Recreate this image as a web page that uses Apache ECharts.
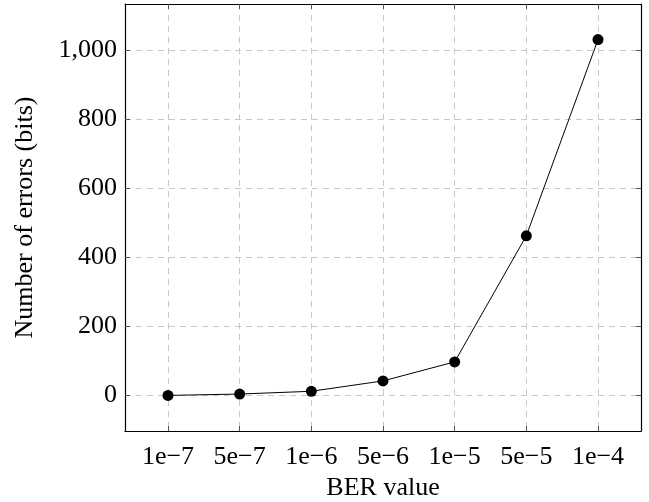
<!DOCTYPE html>
<html>
<head>
<meta charset="utf-8">
<script src="https://cdn.jsdelivr.net/npm/echarts@6/dist/echarts.min.js"></script>
<style>
  html, body { margin: 0; padding: 0; background: #fff; }
  #chart { width: 649px; height: 502px; }
</style>
</head>
<body>
<div id="chart"></div>
<script>
// BER levels tested and the bit errors counted at each
const berLabels = ['1e\u22127', '5e\u22127', '1e\u22126', '5e\u22126', '1e\u22125', '5e\u22125', '1e\u22124'];
const errorCounts = [0, 4, 12, 42, 97, 462, 1030];
const yTicks = [0, 200, 400, 600, 800, 1000];

const positions = berLabels.map((_, i) => i);
const points = errorCounts.map((v, i) => [i, v]);

const FONT = '"Liberation Serif", "DejaVu Serif", serif';
const FS = 26;
const gridLine = { show: true, lineStyle: { color: '#c8c8c8', type: [6, 5], width: 1 } };
const tickStyle = { show: true, inside: true, length: 5, lineStyle: { color: '#555', width: 1 } };
const frame = { show: true, onZero: false, lineStyle: { color: '#000', width: 1.2 } };

const xRange = { min: -0.6, max: 6.6 };
const yRange = { min: -103, max: 1133 };

const chart = echarts.init(document.getElementById('chart'), null, { renderer: 'canvas' });
chart.setOption({
  animation: false,
  grid: { left: 125, right: 8, top: 4, bottom: 71, outerBoundsMode: 'none', containLabel: false },
  xAxis: [
    {
      type: 'value', ...xRange, position: 'bottom',
      axisLine: frame,
      axisTick: { ...tickStyle, customValues: positions },
      splitLine: gridLine,
      axisLabel: {
        customValues: positions,
        formatter: v => berLabels[Math.round(v)],
        fontFamily: FONT, fontSize: FS, color: '#000', margin: 13
      },
      name: 'BER value', nameLocation: 'middle', nameGap: 42,
      nameTextStyle: { fontFamily: FONT, fontSize: FS, color: '#000' }
    },
    {
      type: 'value', ...xRange, position: 'top',
      axisLine: frame,
      axisTick: { ...tickStyle, customValues: positions },
      splitLine: { show: false },
      axisLabel: { show: false }
    }
  ],
  yAxis: [
    {
      type: 'value', ...yRange, position: 'left',
      axisLine: frame,
      axisTick: { ...tickStyle, customValues: yTicks },
      splitLine: gridLine,
      axisLabel: {
        customValues: yTicks,
        formatter: v => v.toLocaleString('en-US'),
        fontFamily: FONT, fontSize: FS, color: '#000', margin: 8
      },
      name: 'Number of errors (bits)', nameLocation: 'middle', nameGap: 87, nameRotate: 90,
      nameTextStyle: { fontFamily: FONT, fontSize: FS, color: '#000' }
    },
    {
      type: 'value', ...yRange, position: 'right',
      axisLine: frame,
      axisTick: { ...tickStyle, customValues: yTicks },
      splitLine: { show: false },
      axisLabel: { show: false }
    }
  ],
  series: [{
    type: 'line',
    data: points,
    symbol: 'circle',
    symbolSize: 11,
    itemStyle: { color: '#000' },
    lineStyle: { color: '#000', width: 1 }
  }]
});
</script>
</body>
</html>
